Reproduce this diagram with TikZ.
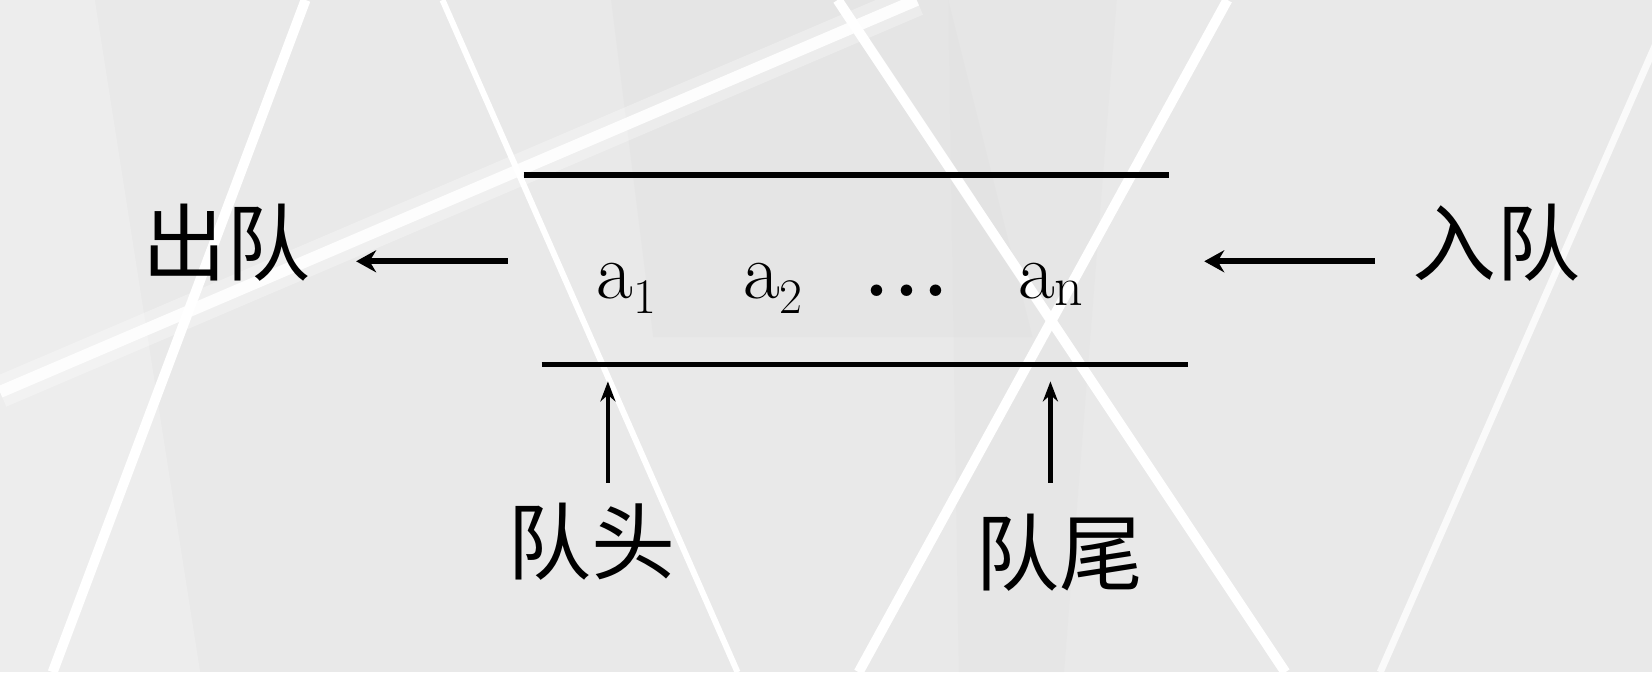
\documentclass[tikz,border=0pt]{standalone}
\usepackage{fontspec}
\newfontfamily\cjk{Noto Sans CJK SC}
\usetikzlibrary{arrows.meta}
\definecolor{bg}{RGB}{233,233,233}
\definecolor{bgdark}{RGB}{224,224,224}
\begin{document}
\begin{tikzpicture}[x=0.5268pt,y=-0.5268pt,
  bgline/.style={white,line width=5pt},
  bar/.style={line width=2.8pt,black},
  harrow/.style={line width=3.2pt,black,-{Stealth[length=10pt,width=11pt]}},
  varrow/.style={line width=2.2pt,black,-{Stealth[length=10pt,width=7.5pt]}},
  cjklbl/.style={font=\cjk\fontsize{42}{42}\selectfont,inner sep=0pt},
  elem/.style={font=\fontsize{40}{40}\selectfont,inner sep=0pt,anchor=base west}]
% background
\fill[bg] (0,0) rectangle (1568,638);
\useasboundingbox (0,0) rectangle (1568,638);
\begin{scope}
\clip (0,0) rectangle (1568,638);
\fill[bgdark,opacity=0.35] (580,0) -- (900,0) -- (980,320) -- (620,320) -- cycle;
\fill[bgdark,opacity=0.3] (900,0) -- (1060,0) -- (1010,638) -- (910,638) -- cycle;
\fill[white,opacity=0.2] (0,0) -- (90,0) -- (190,638) -- (0,638) -- cycle;
\draw[bgline] (290,0) -- (50,638);
\draw[white,line width=3pt] (420,0) -- (700,638);
\draw[white,opacity=0.3,line width=16pt] (0,372) -- (870,0);
\draw[white,opacity=0.9,line width=6pt] (0,372) -- (870,0);
\draw[bgline] (795,0) -- (1220,638);
\draw[bgline] (1165,0) -- (815,638);
\draw[white,opacity=0.8,line width=3.5pt] (1590,0) -- (1310,638);
\end{scope}
% queue bars
\coordinate (t1) at (497,166);
\coordinate (t2) at (1110,166);
\coordinate (b1) at (514,346);
\coordinate (b2) at (1128,346);
\draw[bar] (t1) -- (t2);
\draw[bar] (b1) -- (b2);
% elements
\node[elem] (a1) at (566,283) {$\mathrm{a}_1$};
\node[elem] (a2) at (705,283) {$\mathrm{a}_2$};
\node[elem] (dots) at (820,281) {\textbf{.\kern0.06em.\kern0.06em.}};
\node[elem] (an) at (966,283) {$\mathrm{a}_\mathrm{n}$};
% labels
\node[cjklbl] (out) at (215,230) {出队};
\node[cjklbl] (in) at (1420,230) {入队};
\node[cjklbl] (head) at (561,514) {队头};
\node[cjklbl] (tail) at (1006,525) {队尾};
% arrows
\coordinate (ls) at (482,248);
\coordinate (le) at (338,248);
\coordinate (rs) at (1305,248);
\coordinate (re) at (1143,248);
\coordinate (hs) at (577,458);
\coordinate (he) at (577,362);
\coordinate (ts) at (997,458);
\coordinate (te) at (997,362);
\draw[harrow] (ls) -- (le);
\draw[harrow] (rs) -- (re);
\draw[varrow] (hs) -- (he);
\draw[varrow] (ts) -- (te);
\end{tikzpicture}
\end{document}
